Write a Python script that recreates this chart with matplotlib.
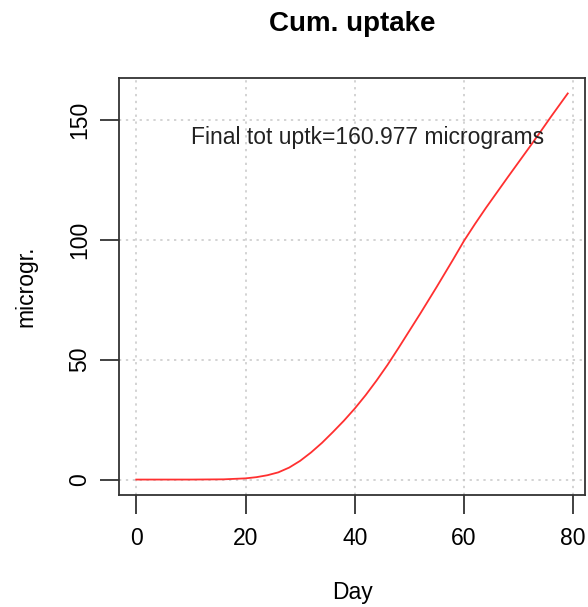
import matplotlib
matplotlib.use("Agg")
import matplotlib.pyplot as plt
import numpy as np

plt.rcParams['font.family'] = ['Liberation Sans', 'DejaVu Sans']

# cumulative uptake
day = [0, 10, 16, 20, 22, 24, 26, 28, 30, 32, 34, 36, 38, 40, 42, 44, 46,
       48, 50, 52, 55, 58, 60, 62, 64, 66, 68, 70, 72, 74, 76, 79]
uptake = [0, 0, 0.1, 0.5, 1.0, 1.8, 3.0, 5.0, 7.8, 11.3, 15.3, 19.8, 24.5,
          29.6, 35.2, 41.3, 47.8, 54.8, 62.0, 69.2, 80.3, 91.7, 99.5, 106.5,
          113.2, 119.6, 126.0, 132.3, 138.6, 145.0, 151.5, 160.977]

x_ticks = [0, 20, 40, 60, 80]
y_ticks = [0, 50, 100, 150]

fig = plt.figure(figsize=(5.88, 6.07), dpi=100)
ax = fig.add_axes([0.2024, 0.1845, 0.7925, 0.687])

ax.plot(day, uptake, color='#ff3030', lw=1.3)

xmax = max(day)
ymax = max(uptake)
ax.set_xlim(-0.04 * xmax, xmax * 1.04)
ax.set_ylim(-0.04 * ymax, ymax * 1.04)

ax.set_xticks(x_ticks)
ax.set_yticks(y_ticks)
ax.set_yticklabels([str(v) for v in y_ticks], rotation=90, va='center')
ax.tick_params(length=14, width=1.3, color='#333333', labelsize=16.5, pad=6)
ax.tick_params(axis='x', pad=9)
for s in ax.spines.values():
    s.set_linewidth(1.3)
    s.set_color('#333333')

ax.grid(True, color='#c8c8c8', linestyle=(0, (1.5, 3)), linewidth=1.1)

ax.set_xlabel('Day', fontsize=16.5, labelpad=22)
ax.set_ylabel('microgr.', fontsize=16.5, labelpad=22)
ax.set_title('Cum. uptake', fontsize=20, fontweight='bold', pad=34)

ax.text(42.4, 142.6, 'Final tot uptk=%.3f micrograms' % uptake[-1],
        fontsize=16.5, ha='center', va='center', color='#222222')

fig.savefig('out.png', dpi=100)
